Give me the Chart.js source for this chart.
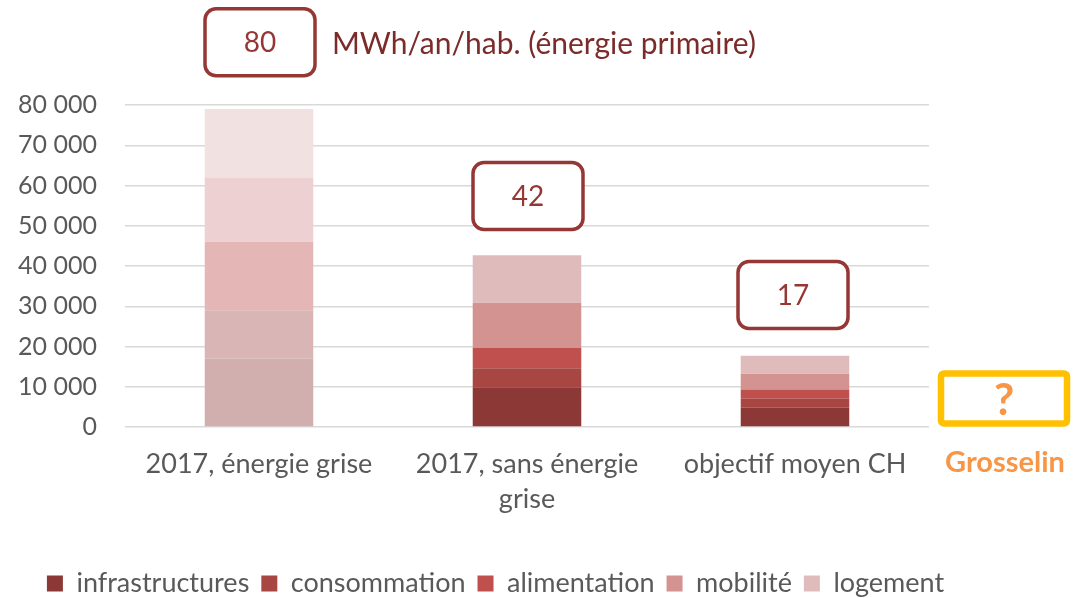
<!DOCTYPE html>
<html>
<head>
<meta charset="utf-8">
<script src="https://cdn.jsdelivr.net/npm/chart.js@4.4.1/dist/chart.umd.min.js"></script>
<style>
  html, body { margin: 0; padding: 0; background: #fff; }
  #wrap { width: 1088px; height: 598px; }
</style>
</head>
<body>
<div id="wrap"><canvas id="energyChart" width="1088" height="598"></canvas></div>
<script>
const categories = [["2017, énergie grise"], ["2017, sans énergie", "grise"], ["objectif moyen CH"]];
const seriesNames = ["infrastructures", "consommation", "alimentation", "mobilité", "logement"];
const infrastructures = [17000, 9900, 4800];
const consommation = [12000, 4700, 2200];
const alimentation = [17000, 5000, 2300];
const mobilite = [16000, 11300, 3900];
const logement = [17000, 11800, 4500];
const totalLabels = ["80", "42", "17"];
const yTicks = [0, 10000, 20000, 30000, 40000, 50000, 60000, 70000, 80000];

const solidColors = ["#8C3836", "#A84643", "#C0504D", "#D39391", "#E0BBBB"];
const fadedColors = ["#D2AFAF", "#DAB5B6", "#E4B6B6", "#EDD0D1", "#F2E1E1"];
const FONT = "Lato, 'Open Sans', sans-serif";

function fmt(v) {
  return String(v).replace(/\B(?=(\d{3})+(?!\d))/g, " ");
}

function roundRect(ctx, x, y, w, h, r) {
  ctx.beginPath();
  ctx.moveTo(x + r, y);
  ctx.arcTo(x + w, y, x + w, y + h, r);
  ctx.arcTo(x + w, y + h, x, y + h, r);
  ctx.arcTo(x, y + h, x, y, r);
  ctx.arcTo(x, y, x + w, y, r);
  ctx.closePath();
}

// boxes with the per-person totals, plus the "Grosselin ?" box
const annotations = {
  id: "annotations",
  afterDraw(chart) {
    const { ctx, scales: { x, y }, chartArea } = chart;
    const boxY = [95600, 57400, 32800];
    ctx.save();
    totalLabels.forEach((t, i) => {
      const cx = x.getPixelForValue(i) + (i === 2 ? -2 : 1);
      const cy = y.getPixelForValue(boxY[i]);
      const w = 110, h = 67;
      ctx.lineWidth = 3.5;
      ctx.strokeStyle = "#953735";
      ctx.fillStyle = "#fff";
      roundRect(ctx, cx - w / 2, cy - h / 2, w, h, 11);
      ctx.fill();
      ctx.stroke();
      ctx.fillStyle = "#953735";
      ctx.font = "28px " + FONT;
      ctx.textAlign = "center";
      ctx.textBaseline = "middle";
      ctx.fillText(t, cx, cy + 1);
      if (i === 0) {
        ctx.fillStyle = "#7A2B2A";
        ctx.font = "30px " + FONT;
        ctx.textAlign = "left";
        ctx.fillText("MWh/an/hab. (énergie primaire)", cx + w / 2 + 17, cy + 2);
      }
    });

    // Grosselin
    const gx = chartArea.right + 12, gy = y.getPixelForValue(13300);
    ctx.lineWidth = 6.5;
    ctx.strokeStyle = "#FFC000";
    roundRect(ctx, gx, gy, 126, 50, 3);
    ctx.stroke();
    ctx.fillStyle = "#F79646";
    ctx.font = "bold 44px " + FONT;
    ctx.textAlign = "center";
    ctx.textBaseline = "middle";
    ctx.fillText("?", gx + 63, gy + 27);
    ctx.font = "bold 29px " + FONT;
    ctx.fillText("Grosselin", gx + 64, y.getPixelForValue(0) + 36);
    ctx.restore();
  }
};

const seriesData = [infrastructures, consommation, alimentation, mobilite, logement];

new Chart(document.getElementById("energyChart"), {
  type: "bar",
  data: {
    labels: categories,
    datasets: seriesData.map((d, i) => ({
      label: seriesNames[i],
      data: d,
      backgroundColor: ctx => ctx.dataIndex === 0 ? fadedColors[i] : solidColors[i],
      borderWidth: 0,
      barPercentage: 0.405,
      categoryPercentage: 1
    }))
  },
  options: {
    responsive: false,
    animation: false,
    layout: { padding: { top: 105, right: 97, left: 0, bottom: -9 } },
    plugins: {
      tooltip: { enabled: false },
      legend: {
        position: "bottom",
        labels: {
          boxWidth: 16,
          boxHeight: 16,
          padding: 12,
          color: "#595959",
          font: { family: FONT, size: 27 },
          generateLabels: chart => seriesNames.map((n, i) => ({
            text: n,
            fillStyle: solidColors[i],
            strokeStyle: solidColors[i],
            lineWidth: 0,
            fontColor: "#595959",
            datasetIndex: i
          }))
        }
      }
    },
    scales: {
      x: {
        stacked: true,
        grid: { display: false },
        border: { display: false },
        ticks: {
          color: "#595959",
          font: { family: FONT, size: 27, lineHeight: 1.3 },
          padding: 12,
          maxRotation: 0
        },
        afterFit: s => { s.height = 131; }
      },
      y: {
        stacked: true,
        min: 0,
        max: 80000,
        afterBuildTicks: s => { s.ticks = yTicks.map(v => ({ value: v })); },
        grid: { color: "#D9D9D9", lineWidth: 1.5, drawTicks: false },
        border: { display: false },
        ticks: {
          color: "#595959",
          font: { family: FONT, size: 25 },
          padding: 28,
          callback: v => fmt(v)
        },
        afterFit: s => { s.width = 125; }
      },
      // empty right-hand axis: keeps room for the Grosselin box
      yRight: {
        position: "right",
        grid: { display: false },
        border: { display: false },
        ticks: { display: false },
        afterFit: s => { s.width = 62; }
      }
    }
  },
  plugins: [annotations]
});
</script>
</body>
</html>
